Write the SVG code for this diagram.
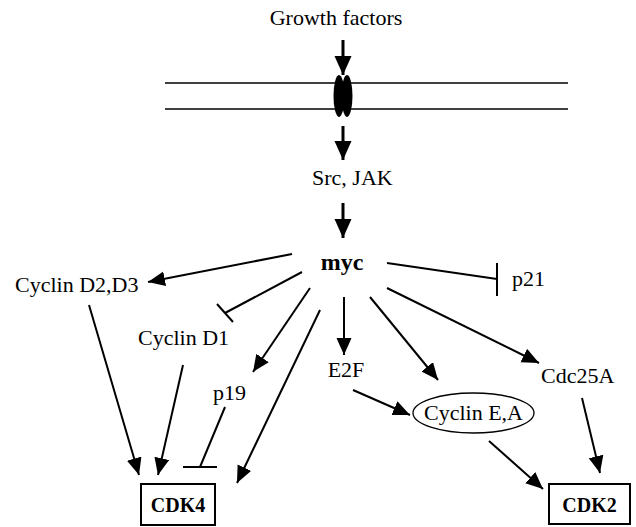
<svg xmlns="http://www.w3.org/2000/svg" width="636" height="527" viewBox="0 0 636 527">
<style>
text{font-family:"Liberation Serif","Times New Roman",serif;font-size:22px;fill:#000}
.b{font-weight:bold}
.ln{stroke:#000;stroke-width:2;fill:none}
.thk{stroke:#000;stroke-width:3;fill:none}
.mem{stroke:#000;stroke-width:1.5}
.box{fill:#fff;stroke:#000;stroke-width:2}
</style>
<defs>
<marker id="ah" markerUnits="userSpaceOnUse" markerWidth="18" markerHeight="16" refX="17" refY="7.5" orient="auto">
<path d="M0,0 L17,7.5 L0,15 z" fill="#000"/>
</marker>
<marker id="ahb" markerUnits="userSpaceOnUse" markerWidth="20" markerHeight="18" refX="19" refY="8.5" orient="auto">
<path d="M0,0 L19,8.5 L0,17 z" fill="#000"/>
</marker>
</defs>
<rect width="636" height="527" fill="#fff"/>
<g id="membrane">
<line class="mem" x1="165" y1="83" x2="568" y2="83"/>
<line class="mem" x1="165" y1="109" x2="568" y2="109"/>
<ellipse cx="339" cy="96" rx="5.5" ry="21" fill="#000"/>
<ellipse cx="347" cy="96" rx="5.5" ry="21" fill="#000"/>
</g>
<g id="connectors">
<line class="thk" x1="343" y1="40" x2="343" y2="75" marker-end="url(#ahb)"/>
<line class="thk" x1="343" y1="126" x2="343" y2="160" marker-end="url(#ahb)"/>
<line class="thk" x1="343" y1="203" x2="343" y2="238" marker-end="url(#ahb)"/>
<line class="ln" x1="292" y1="254" x2="148" y2="282" marker-end="url(#ah)"/>
<line class="ln" x1="302" y1="272" x2="225" y2="313"/>
<line class="ln" x1="217" y1="304" x2="233" y2="322"/>
<line class="ln" x1="310" y1="288" x2="253" y2="372" marker-end="url(#ah)"/>
<line class="ln" x1="320" y1="310" x2="237" y2="483" marker-end="url(#ah)"/>
<line class="ln" x1="344" y1="297" x2="344" y2="355" marker-end="url(#ah)"/>
<line class="ln" x1="370" y1="297" x2="438" y2="380" marker-end="url(#ah)"/>
<line class="ln" x1="387" y1="288" x2="539" y2="363" marker-end="url(#ah)"/>
<line class="ln" x1="387" y1="263" x2="497" y2="279"/>
<line class="ln" x1="497" y1="263" x2="497" y2="296"/>
<line class="ln" x1="89" y1="305" x2="139" y2="475" marker-end="url(#ah)"/>
<line class="ln" x1="183" y1="365" x2="158" y2="475" marker-end="url(#ah)"/>
<line class="ln" x1="225" y1="407" x2="200" y2="467"/>
<line class="ln" x1="183" y1="467" x2="217" y2="467"/>
<line class="ln" x1="353" y1="390" x2="410" y2="415" marker-end="url(#ah)"/>
<line class="ln" x1="489" y1="441" x2="543" y2="489" marker-end="url(#ah)"/>
<line class="ln" x1="582" y1="398" x2="600" y2="473" marker-end="url(#ah)"/>
</g>
<g id="growth-factors"><text x="336" y="25" text-anchor="middle">Growth factors</text></g>
<g id="src-jak"><text x="312" y="185">Src, JAK</text></g>
<g id="myc"><text class="b" x="342" y="270" text-anchor="middle" style="font-size:24px">myc</text></g>
<g id="p21"><text x="512" y="286">p21</text></g>
<g id="cyclin-d2d3"><text x="15" y="292">Cyclin D2,D3</text></g>
<g id="cyclin-d1"><text x="138" y="345">Cyclin D1</text></g>
<g id="p19"><text x="213" y="400">p19</text></g>
<g id="e2f"><text x="346" y="377" text-anchor="middle">E2F</text></g>
<g id="cdc25a"><text x="541" y="383">Cdc25A</text></g>
<g id="cyclin-ea">
<ellipse cx="473.5" cy="413" rx="60.5" ry="20" fill="#fff" stroke="#000" stroke-width="1.3"/>
<text x="473.5" y="420" text-anchor="middle">Cyclin E,A</text>
</g>
<g id="cdk4">
<rect class="box" x="141" y="484" width="74" height="41"/>
<text class="b" x="178" y="512" text-anchor="middle" style="font-size:20px">CDK4</text>
</g>
<g id="cdk2">
<rect class="box" x="549" y="484" width="81" height="40"/>
<text class="b" x="589.5" y="512" text-anchor="middle" style="font-size:20px">CDK2</text>
</g>
</svg>
